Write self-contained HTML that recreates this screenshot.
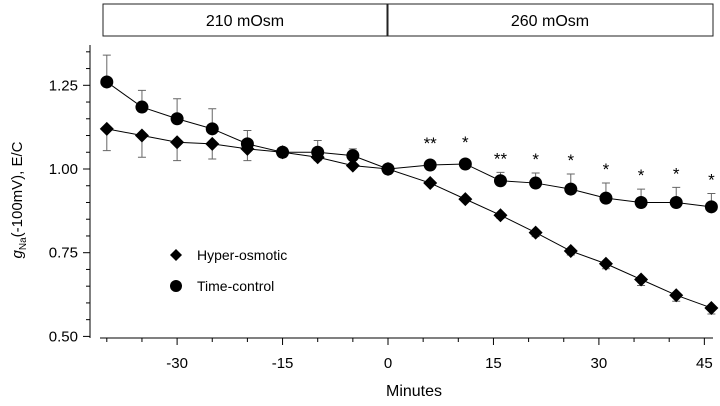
<!DOCTYPE html>
<html><head><meta charset="utf-8"><style>
body{margin:0;background:#fff;font-family:"Liberation Sans",Arial,sans-serif}
svg text{font-family:"Liberation Sans",Arial,sans-serif}
</style></head><body>
<svg id="c" width="720" height="401" viewBox="0 0 720 401">
<rect x="103" y="4" width="284" height="32" fill="#fff" stroke="#222"/>
<text x="245" y="26" font-size="16" text-anchor="middle">210 mOsm</text>
<rect x="388" y="4" width="325" height="32" fill="#fff" stroke="#222"/>
<text x="550" y="26" font-size="16" text-anchor="middle">260 mOsm</text>
<text transform="translate(22,200) rotate(-90)" font-size="15" text-anchor="middle"><tspan font-style="italic">g</tspan><tspan font-size="10" dy="4">Na</tspan><tspan dy="-4">(-100mV), E/C</tspan></text>
<text x="414" y="396" font-size="16" text-anchor="middle">Minutes</text>
<g id="axes"></g><g id="marks"></g>
<g>
<path d="M170,255 L176,249 L182,255 L176,261Z" fill="#000"/>
<text x="197" y="260" font-size="14">Hyper-osmotic</text>
<circle cx="176" cy="286" r="6" fill="#000"/>
<text x="197" y="291" font-size="14">Time-control</text>
</g>
</svg>
<script>
const timesCircle=[-40,-35,-30,-25,-20,-15,-10,-5,0,6,11,16,21,26,31,36,41,46];
const timesDiamond=[-40,-35,-30,-25,-20,-15,-10,-5,0,6,11,16,21,26,31,36,41,46];
const timeControl=[1.26,1.185,1.15,1.12,1.075,1.05,1.05,1.04,1.0,1.012,1.015,0.965,0.958,0.94,0.913,0.9,0.9,0.887];
const timeControlErr=[0.08,0.05,0.06,0.06,0.04,0.01,0.035,0.02,0,0,0,0.025,0.03,0.045,0.045,0.04,0.045,0.04];
const hyper=[1.12,1.10,1.08,1.075,1.06,1.05,1.035,1.01,1.0,0.958,0.91,0.862,0.81,0.755,0.717,0.67,0.623,0.585];
const hyperErr=[0.065,0.065,0.055,0.045,0.035,0.015,0.01,0.005,0,0.005,0.008,0.01,0.012,0.012,0.015,0.018,0.018,0.018];
const stars=["","","","","","","","","","**","*","**","*","*","*","*","*","*"];
const yTicks=[0.50,0.75,1.00,1.25];
const xTicks=[-30,-15,0,15,30,45];
const NS="http://www.w3.org/2000/svg";
const X=t=>388+t*7.03, Y=v=>169-(v-1)*334.8;
function mk(tag,at,parent){const e=document.createElementNS(NS,tag);for(const k in at)e.setAttribute(k,at[k]);parent.appendChild(e);return e;}
const ax=document.getElementById('axes'), mg=document.getElementById('marks');
let e=mk('line',{x1:90,y1:45,x2:90,y2:338,stroke:'#000'},ax);


e=mk('line',{x1:100,y1:338,x2:713,y2:338,stroke:'#000'},ax);


for(let v=0.50;v<=1.36;v+=0.05){const major=yTicks.some(t=>Math.abs(t-v)<1e-6);mk('line',{x1:major?83:86,x2:90,y1:Y(v),y2:Y(v),stroke:'#000'},ax);}
yTicks.forEach(v=>{const t=mk('text',{x:78,y:Y(v)+5,'font-size':15,'text-anchor':'end'},ax);t.textContent=v.toFixed(2);

});
for(let m=-40;m<=45;m+=5){const major=xTicks.includes(m);mk('line',{x1:X(m),x2:X(m),y1:338,y2:major?345:342,stroke:'#000'},ax);}
xTicks.forEach(m=>{const t=mk('text',{x:X(m),y:368,'font-size':15,'text-anchor':'middle'},ax);t.textContent=m;

});
timesCircle.forEach((t,i)=>{if(timeControlErr[i]>0){const x=X(t),y1=Y(timeControl[i]),y2=Y(timeControl[i]+timeControlErr[i]);
const g=mk('path',{d:`M${x},${y1}V${y2}M${x-4},${y2}H${x+4}`,stroke:'#666',fill:'none'},mg);

}});
timesDiamond.forEach((t,i)=>{if(hyperErr[i]>0){const x=X(t),y1=Y(hyper[i]),y2=Y(hyper[i]-hyperErr[i]);
const g=mk('path',{d:`M${x},${y1}V${y2}M${x-4},${y2}H${x+4}`,stroke:'#666',fill:'none'},mg);

}});
let l=mk('polyline',{points:timesDiamond.map((t,i)=>X(t)+','+Y(hyper[i])).join(' '),fill:'none',stroke:'#000','stroke-width':1},mg);


l=mk('polyline',{points:timesCircle.map((t,i)=>X(t)+','+Y(timeControl[i])).join(' '),fill:'none',stroke:'#000','stroke-width':1},mg);


timesDiamond.forEach((t,i)=>{const x=X(t),y=Y(hyper[i]);
const p=mk('path',{d:`M${x-7},${y}L${x},${y-7}L${x+7},${y}L${x},${y+7}Z`,fill:'#000'},mg);

});
timesCircle.forEach((t,i)=>{
const c=mk('circle',{cx:X(t),cy:Y(timeControl[i]),r:6.5,fill:'#000'},mg);


if(stars[i]){const top=Y(timeControl[i]+timeControlErr[i]);const s=mk('text',{x:X(t),y:Math.min(top,Y(timeControl[i])-8)-8,'font-size':17,'text-anchor':'middle'},mg);s.textContent=stars[i];

}});
</script>
</body></html>
